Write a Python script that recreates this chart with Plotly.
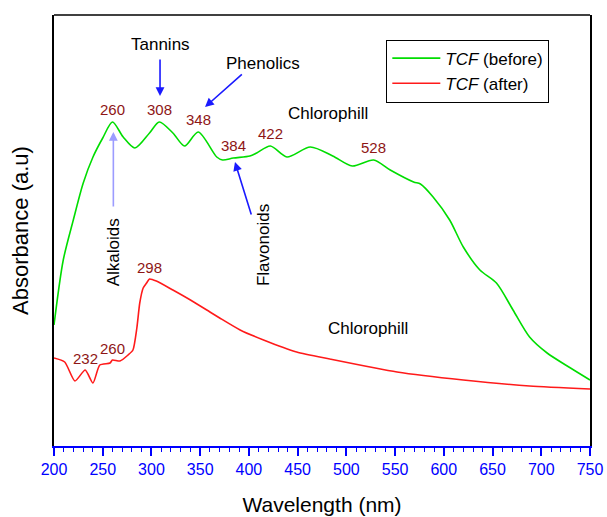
import plotly.graph_objects as go

# UV-Vis absorbance spectra of TCF before and after treatment
wl_before = [200, 209.5, 219.8, 230, 240, 250, 260, 271, 283, 298, 308, 322, 334,
             348, 367, 373, 384, 401, 408, 422, 439, 463, 486, 506, 528, 545,
             569, 576, 589, 606, 620, 637, 654, 671, 688, 706, 730, 750]
abs_before = [1.21, 1.86, 2.26, 2.63, 2.89, 3.08, 3.24, 3.09, 2.98, 3.13, 3.24, 3.13, 3.00,
              3.14, 2.89, 2.86, 2.88, 2.90, 2.93, 3.00, 2.89, 2.99, 2.90, 2.80, 2.86, 2.76,
              2.64, 2.62, 2.49, 2.26, 1.99, 1.76, 1.63, 1.36, 1.09, 0.93, 0.78, 0.66]

wl_after = [200, 211, 221.5, 232, 240, 247, 257.5, 260, 267.7, 276, 281, 285, 288,
            291.5, 295, 298, 305, 322, 340, 360, 370, 391, 415, 449, 483, 552,
            620, 688, 750]
abs_after = [0.88, 0.84, 0.65, 0.76, 0.63, 0.81, 0.83, 0.86, 0.85, 0.91, 0.96, 1.18, 1.43,
             1.58, 1.63, 1.67, 1.65, 1.56, 1.46, 1.34, 1.28, 1.16, 1.06, 0.94, 0.87, 0.74,
             0.66, 0.60, 0.57]

# labelled band positions (nm)
peaks_before = [260, 308, 348, 384, 422, 528]
peaks_after = [232, 260, 298]

x_ticks = [200, 250, 300, 350, 400, 450, 500, 550, 600, 650, 700, 750]

FONT = "Liberation Sans, Arial, sans-serif"
PEAK_COLOR = "#8e1616"
ARROW_BLUE = "#1a1aff"

fig = go.Figure()
fig.add_trace(go.Scatter(x=wl_before, y=abs_before, mode="lines",
                         line=dict(color="#00dd00", width=1.6, shape="spline", smoothing=0.8),
                         name="<i>TCF</i> (before)"))
fig.add_trace(go.Scatter(x=wl_after, y=abs_after, mode="lines",
                         line=dict(color="#ff1a1a", width=1.6, shape="spline", smoothing=0.6),
                         name="<i>TCF</i> (after)"))

annotations = []


def value_at(xs, ys, x):
    return ys[xs.index(x)]


for p in peaks_before:
    annotations.append(dict(x=p, y=value_at(wl_before, abs_before, p), text=str(p),
                            showarrow=False, yshift=13, yanchor="middle",
                            font=dict(family=FONT, size=15, color=PEAK_COLOR)))
for p in peaks_after:
    annotations.append(dict(x=p, y=value_at(wl_after, abs_after, p), text=str(p),
                            showarrow=False, yshift=12, yanchor="middle",
                            font=dict(family=FONT, size=15, color=PEAK_COLOR)))

# compound-class labels
text_font = dict(family=FONT, size=17, color="black")
annotations += [
    dict(x=308.8, y=4.02, text="Tannins", showarrow=False, font=text_font),
    dict(x=414.5, y=3.83, text="Phenolics", showarrow=False, font=text_font),
    dict(x=481, y=3.33, text="Chlorophill", showarrow=False, font=text_font),
    dict(x=522, y=1.18, text="Chlorophill", showarrow=False, font=text_font),
    dict(x=260.9, y=1.94, text="Alkaloids", showarrow=False, textangle=-90, font=text_font),
    dict(x=414.5, y=2.01, text="Flavonoids", showarrow=False, textangle=-90, font=text_font),
]

# arrows pointing to the bands
arrow_specs = [
    (308.8, 3.88, 308.8, 3.50, ARROW_BLUE),
    (394.3, 3.73, 355.0, 3.39, ARROW_BLUE),
    (260.9, 2.38, 260.9, 3.14, "rgba(60,60,255,0.5)"),
    (402.9, 2.30, 385.7, 2.84, ARROW_BLUE),
]
for ax, ay, x, y, c in arrow_specs:
    annotations.append(dict(x=x, y=y, ax=ax, ay=ay, axref="x", ayref="y", text="",
                            showarrow=True, arrowhead=2, arrowsize=1.1, arrowwidth=1.6,
                            arrowcolor=c))

fig.update_layout(
    width=607, height=517,
    margin=dict(l=54, r=17, t=15, b=71, autoexpand=False),
    paper_bgcolor="white", plot_bgcolor="white",
    font=dict(family=FONT, color="black"),
    showlegend=True,
    legend=dict(x=0.62, y=0.943, xanchor="left", yanchor="top",
                bgcolor="white", bordercolor="black", borderwidth=1,
                itemwidth=48,
                font=dict(family=FONT, size=17, color="black"),
                tracegroupgap=0),
    annotations=annotations,
    shapes=[dict(type="line", xref="paper", yref="paper", x0=0, x1=1, y0=1, y1=1,
                 line=dict(color="black", width=1.5))],
    xaxis=dict(range=[200, 750], tickvals=x_ticks, showgrid=False, zeroline=False,
               automargin=False,
               showline=True, linecolor="#0000ff", linewidth=2,
               ticks="outside", ticklen=8, tickwidth=1.5, tickcolor="#0000ff",
               minor=dict(dtick=10, ticks="outside", ticklen=4, tickwidth=1.2,
                          tickcolor="#0000ff", showgrid=False),
               tickfont=dict(family=FONT, size=16, color="#0000ff"),
               title=dict(text="Wavelength (nm)", font=dict(family=FONT, size=21, color="black"),
                          standoff=20)),
    yaxis=dict(range=[0, 4.31], showticklabels=False, ticks="", showgrid=False,
               automargin=False,
               zeroline=False, showline=True, linecolor="black", linewidth=2, mirror=True,
               title=dict(text="Absorbance (a.u)", font=dict(family=FONT, size=22, color="black"),
                          standoff=17)),
)

fig.write_html("out.html")
